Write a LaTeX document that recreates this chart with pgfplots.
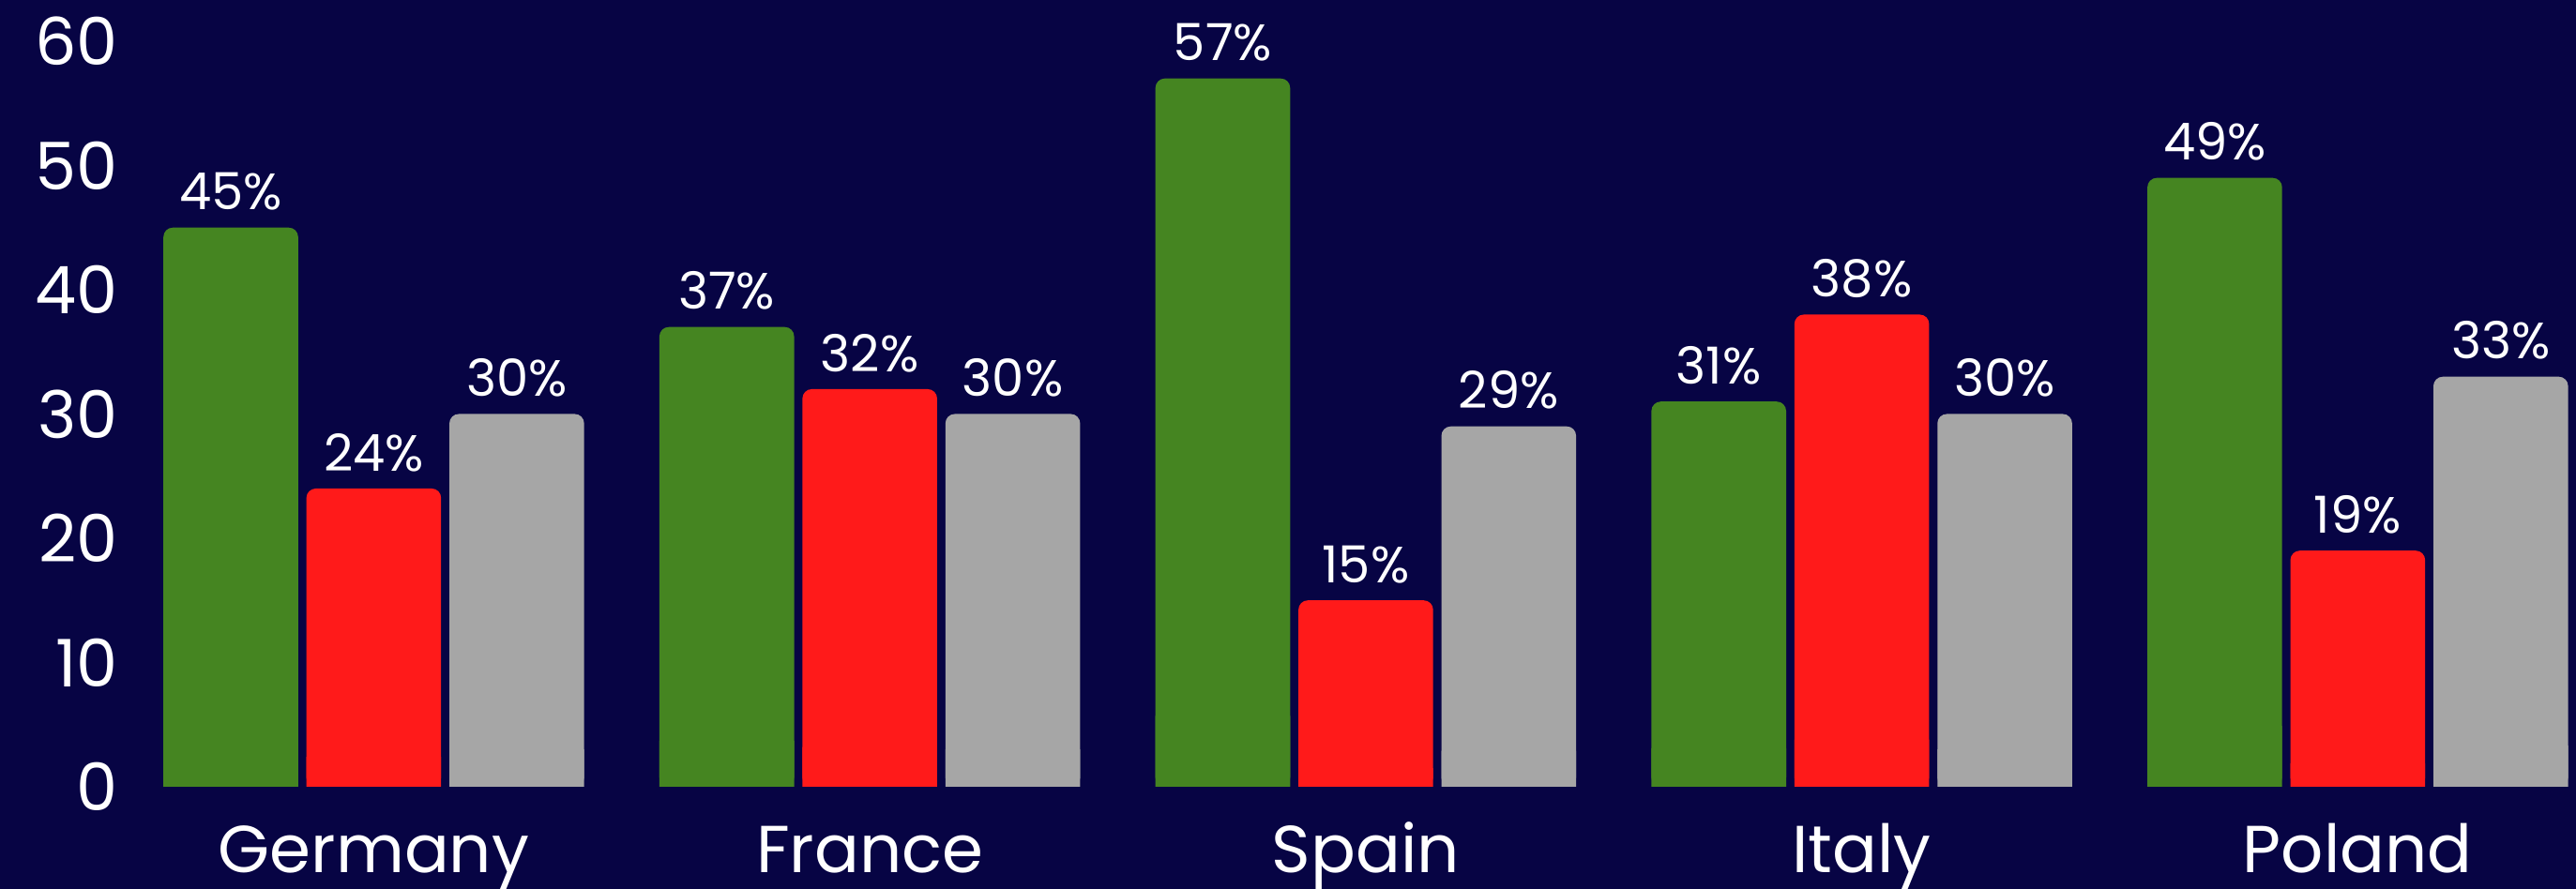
\documentclass[border=0pt]{standalone}
\usepackage{fontspec}
\setmainfont{Poppins}
\usepackage{pgfplots}
\pgfplotsset{compat=1.18}
\usepackage{pgfplotstable}
\definecolor{bg}{HTML}{070444}
\definecolor{cgreen}{HTML}{458521}
\definecolor{cred}{HTML}{FF1A1A}
\definecolor{cgray}{HTML}{A6A6A6}
\pgfplotstableread{
x green red gray
0 45 24 30
1 37 32 30
2 57 15 29
3 31 38 30
4 49 19 33
}\data
\begin{document}
\begin{tikzpicture}
\path[use as bounding box, fill=bg] (0,0) rectangle (686.5pt,237pt);
\begin{axis}[
  at={(35pt,27.25pt)}, anchor=south west,
  scale only axis, width=651.5pt, height=209.75pt,
  xmin=-0.4888, xmax=4.440, ymin=0, ymax=63.32,
  ybar, bar width=0.2716,
  axis line style={draw=none},
  major tick length=0pt,
  ytick={0,10,20,30,40,50,60},
  xtick={0,1,2,3,4},
  xticklabels={Germany,France,Spain,Italy,Poland},
  /pgf/number format/assume math mode=true,
  yticklabel style={font=\fontsize{17.5}{20}\selectfont, text=white, xshift=0pt},
  xticklabel style={font=\fontsize{17.7}{20}\selectfont, text=white, anchor=base, yshift=-23pt},
  clip=false,
  nodes near coords={\pgfmathprintnumber{\pgfplotspointmeta}\%},
  every node near coord/.append style={font=\fontsize{13.6}{15}\selectfont, text=white, yshift=1pt},
]
% lower square parts (no labels), hide the rounded bottom corners
\addplot[fill=cgreen, draw=none, bar shift=-0.2883, nodes near coords={}, y filter/.expression={y/10}, forget plot] table[x=x,y=green]{\data};
\addplot[fill=cred, draw=none, bar shift=0, nodes near coords={}, y filter/.expression={y/10}, forget plot] table[x=x,y=red]{\data};
\addplot[fill=cgray, draw=none, bar shift=0.2883, nodes near coords={}, y filter/.expression={y/10}, forget plot] table[x=x,y=gray]{\data};
% full bars with rounded corners
\addplot[fill=cgreen, draw=none, rounded corners=2.5pt, bar shift=-0.2883] table[x=x,y=green]{\data};
\addplot[fill=cred, draw=none, rounded corners=2.5pt, bar shift=0] table[x=x,y=red]{\data};
\addplot[fill=cgray, draw=none, rounded corners=2.5pt, bar shift=0.2883] table[x=x,y=gray]{\data};
\end{axis}
\end{tikzpicture}
\end{document}
